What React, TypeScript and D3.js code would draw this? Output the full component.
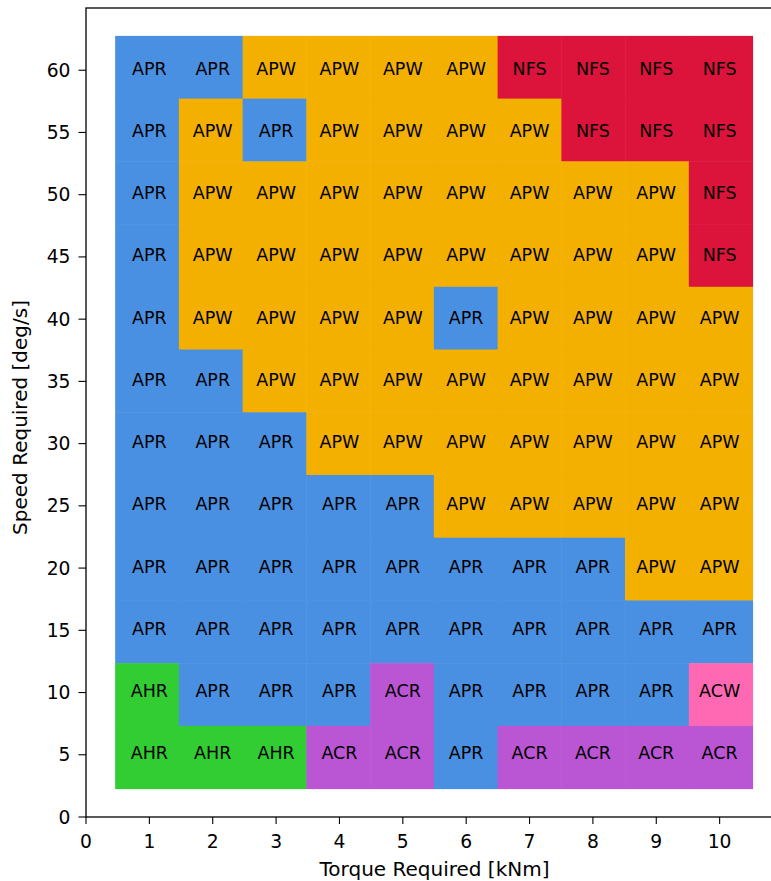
import React from "react";
import * as d3 from "d3";

const width = 771;
const height = 881;
const margin = { top: 8, right: -12, bottom: 64, left: 86 };

const torques = [1, 2, 3, 4, 5, 6, 7, 8, 9, 10];
const speeds = [60, 55, 50, 45, 40, 35, 30, 25, 20, 15, 10, 5];
// one row per speed (top to bottom), one entry per torque
const grid = [
  ["APR", "APR", "APW", "APW", "APW", "APW", "NFS", "NFS", "NFS", "NFS"],
  ["APR", "APW", "APR", "APW", "APW", "APW", "APW", "NFS", "NFS", "NFS"],
  ["APR", "APW", "APW", "APW", "APW", "APW", "APW", "APW", "APW", "NFS"],
  ["APR", "APW", "APW", "APW", "APW", "APW", "APW", "APW", "APW", "NFS"],
  ["APR", "APW", "APW", "APW", "APW", "APR", "APW", "APW", "APW", "APW"],
  ["APR", "APR", "APW", "APW", "APW", "APW", "APW", "APW", "APW", "APW"],
  ["APR", "APR", "APR", "APW", "APW", "APW", "APW", "APW", "APW", "APW"],
  ["APR", "APR", "APR", "APR", "APR", "APW", "APW", "APW", "APW", "APW"],
  ["APR", "APR", "APR", "APR", "APR", "APR", "APR", "APR", "APW", "APW"],
  ["APR", "APR", "APR", "APR", "APR", "APR", "APR", "APR", "APR", "APR"],
  ["AHR", "APR", "APR", "APR", "ACR", "APR", "APR", "APR", "APR", "ACW"],
  ["AHR", "AHR", "AHR", "ACR", "ACR", "APR", "ACR", "ACR", "ACR", "ACR"],
];
const categories = ["APR", "APW", "NFS", "AHR", "ACR", "ACW"];
const palette = ["#4a90e2", "#f4b000", "#dc143c", "#32cd32", "#ba55d3", "#ff69b4"];

const xTicks = [0, 1, 2, 3, 4, 5, 6, 7, 8, 9, 10];
const yTicks = [0, 5, 10, 15, 20, 25, 30, 35, 40, 45, 50, 55, 60];

// image extent of the colour grid, in data units
const extentX = [0.46, 10.52];
const extentY = [2.28, 62.76];

const x = d3.scaleLinear([0, 11], [margin.left, width - margin.right]);
const y = d3.scaleLinear([0, 65], [height - margin.bottom, margin.top]);
const color = d3.scaleOrdinal<string, string>(categories, palette);

// band scales that split the image extent into the grid
const col = d3.scaleBand<number>(torques, [x(extentX[0]), x(extentX[1])]);
const row = d3.scaleBand<number>(speeds, [y(extentY[1]), y(extentY[0])]);

const font = "DejaVu Sans, sans-serif";

export default function App() {
  const cells = grid.flatMap((r, i) =>
    r.map((cat, j) => ({ t: torques[j], s: speeds[i], cat }))
  );
  const x0 = x(0);
  const y0 = y(0);
  return (
    <svg
      width={width}
      height={height}
      style={{ position: "absolute", top: 0, left: 0, display: "block" }}
    >
      <rect width={width} height={height} fill="white" />
      {cells.map((c, k) => (
        <rect
          key={"r" + k}
          x={col(c.t)}
          y={row(c.s)}
          width={col.bandwidth() + 0.5}
          height={row.bandwidth() + 0.5}
          fill={color(c.cat)}
        />
      ))}
      {cells.map((c, k) => (
        <text
          key={"t" + k}
          x={x(c.t)}
          y={y(c.s) - 1.5}
          textAnchor="middle"
          dominantBaseline="central"
          fontFamily={font}
          fontSize={17.5}
          fill="black"
        >
          {c.cat}
        </text>
      ))}
      {/* frame */}
      <rect
        x={x0}
        y={y(65)}
        width={x(11) - x0}
        height={y0 - y(65)}
        fill="none"
        stroke="black"
        strokeWidth={1.3}
      />
      {xTicks.map((t) => (
        <g key={"xt" + t}>
          <line x1={x(t)} x2={x(t)} y1={y0} y2={y0 + 7} stroke="black" strokeWidth={1.1} />
          <text
            x={x(t)}
            y={y0 + 30.5}
            textAnchor="middle"
            fontFamily={font}
            fontSize={18.7}
          >
            {t}
          </text>
        </g>
      ))}
      {yTicks.map((t) => (
        <g key={"yt" + t}>
          <line x1={x0 - 7.5} x2={x0} y1={y(t)} y2={y(t)} stroke="black" strokeWidth={1.1} />
          <text
            x={x0 - 15.5}
            y={y(t)}
            textAnchor="end"
            dominantBaseline="central"
            fontFamily={font}
            fontSize={18.7}
          >
            {t}
          </text>
        </g>
      ))}
      <text
        x={x(5.5)}
        y={y0 + 59}
        textAnchor="middle"
        fontFamily={font}
        fontSize={20}
      >
        Torque Required [kNm]
      </text>
      <text
        transform={`translate(27,${y(32.1)}) rotate(-90)`}
        textAnchor="middle"
        fontFamily={font}
        fontSize={20}
      >
        Speed Required [deg/s]
      </text>
    </svg>
  );
}
